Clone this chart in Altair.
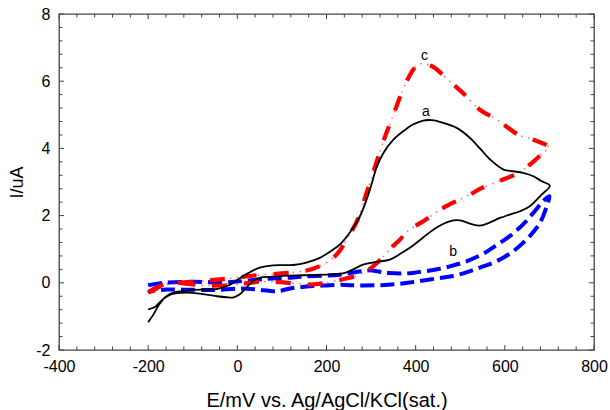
import altair as alt
import pandas as pd

# Curve a (black): anodic branch -200 -> 700 mV, then cathodic branch back to -200 mV
E_a = [-200, -188, -175, -159, -140, -120, -96, -69, -44, -20, 0, 15, 30, 50, 80, 125, 155,
       185, 200, 215, 230, 252, 275, 290, 301, 312, 327, 350, 372, 394, 417, 436, 462, 492,
       522, 544, 567, 597, 619, 641, 664, 683, 701,
       683, 656, 634, 611, 589, 567, 544, 522, 499, 476, 446, 416, 387, 365, 342, 312, 282,
       260, 237, 207, 170, 133, 95, 80, 50, 35, 20, 5, -10, -25, -45, -70, -100, -125, -150,
       -168, -185, -200]
I_a = [-1.17, -0.94, -0.64, -0.40, -0.28, -0.24, -0.21, -0.20, -0.18, -0.08, 0.08, 0.22,
       0.33, 0.45, 0.52, 0.53, 0.60, 0.74, 0.86, 0.99, 1.14, 1.49, 1.98, 2.48, 2.93, 3.42,
       3.85, 4.26, 4.51, 4.71, 4.83, 4.84, 4.76, 4.61, 4.31, 4.00, 3.67, 3.37, 3.32, 3.27,
       3.17, 3.02, 2.89,
       2.63, 2.28, 2.13, 2.03, 1.93, 1.80, 1.70, 1.76, 1.86, 1.83, 1.64, 1.34, 1.04, 0.86,
       0.69, 0.62, 0.54, 0.40, 0.28, 0.25, 0.23, 0.22, 0.20, 0.18, 0.15, 0.05, -0.15, -0.35,
       -0.44, -0.43, -0.40, -0.35, -0.30, -0.30, -0.35, -0.50, -0.72, -0.79]

# Curve b (blue)
E_b = [-200, -166, -96, -27, 9, 50, 78, 125, 148, 193, 230, 270, 296, 320, 340, 380, 402,
       439, 477, 514, 551, 581, 611, 641, 664, 686, 700,
       694, 679, 656, 619, 581, 544, 507, 469, 432, 392, 357, 322, 282, 252, 230, 183, 150,
       121, 95, 78, 44, 5, -47, -99, -159, -200]
I_b = [-0.07, 0.00, 0.03, 0.01, 0.05, 0.10, 0.13, 0.16, 0.19, 0.21, 0.24, 0.33, 0.37, 0.33,
       0.29, 0.28, 0.31, 0.38, 0.49, 0.64, 0.86, 1.12, 1.39, 1.74, 2.08, 2.43, 2.58,
       2.28, 1.79, 1.39, 0.94, 0.64, 0.45, 0.28, 0.17, 0.10, 0.02, -0.04, -0.07, -0.08,
       -0.07, -0.06, -0.09, -0.12, -0.16, -0.24, -0.25, -0.20, -0.17, -0.21, -0.21, -0.20,
       -0.26]

# Curve c (red)
E_c = [-200, -184, -160, -130, -100, -70, -40, -10, 20, 60, 100, 140, 170, 200, 226, 250,
       270, 290, 310, 330, 350, 370, 390, 405, 418, 440, 476, 506, 544, 582, 630, 664, 700,
       685, 668, 640, 619, 582, 545, 529, 499, 462, 439, 417, 383, 365, 350, 335, 322, 296,
       270, 235, 200, 165, 130, 95, 60, 27, 0, -35, -70, -105, -140, -166, -185, -200]
I_c = [-0.30, -0.15, -0.07, 0.00, 0.03, 0.06, 0.10, 0.14, 0.19, 0.24, 0.28, 0.33, 0.42,
       0.60, 0.89, 1.40, 1.88, 2.68, 3.50, 4.30, 5.00, 5.70, 6.25, 6.49, 6.52, 6.42, 6.00,
       5.65, 5.15, 4.86, 4.41, 4.26, 4.02,
       3.87, 3.65, 3.35, 3.20, 3.00, 2.80, 2.68, 2.48, 2.23, 2.03, 1.83, 1.55, 1.29, 1.10,
       0.89, 0.70, 0.40, 0.22, 0.10, 0.00, -0.05, -0.02, 0.02, 0.04, 0.00, -0.05, -0.08,
       -0.08, -0.04, 0.00, -0.05, -0.20, -0.30]

# Curve labels
label_text = ["a", "b", "c"]
label_E = [423, 484, 420]
label_I = [5.08, 0.93, 6.76]

x_ticks = [-400, -200, 0, 200, 400, 600, 800]
y_ticks = [-2, 0, 2, 4, 6, 8]
x_minor = [v for v in range(-400, 801, 40) if v % 200 != 0]
y_minor = [round(-2 + 0.4 * i, 1) for i in range(26) if (i % 5) != 0]

W, H = 535, 336
FONT = "Liberation Sans"

xs = alt.Scale(domain=[-400, 800], nice=False, zero=False)
ys = alt.Scale(domain=[-2, 8], nice=False, zero=False)

# plain hyphen-minus in tick labels
LABEL = "'' + datum.value"

x_axis = alt.Axis(values=x_ticks, title="E/mV vs. Ag/AgCl/KCl(sat.)", labelFlush=False,
                  labelOverlap=False, labelPadding=8, titlePadding=16, labelExpr=LABEL)
y_axis = alt.Axis(values=y_ticks, title="I/uA", labelFlush=False, labelOverlap=False,
                  labelPadding=9, titlePadding=9, labelExpr=LABEL, titleFontSize=18)


def curve(E, I):
    return pd.DataFrame({"E": E, "I": I, "k": list(range(len(E)))})


def enc(chart):
    return chart.encode(
        x=alt.X("E:Q", scale=xs, axis=x_axis),
        y=alt.Y("I:Q", scale=ys, axis=y_axis),
        order="k:Q",
    )


line_a = enc(alt.Chart(curve(E_a, I_a)).mark_line(
    color="black", strokeWidth=1.8, interpolate="catmull-rom"))
line_b = enc(alt.Chart(curve(E_b, I_b)).mark_line(
    color="#0000ff", strokeWidth=4, strokeDash=[14, 6], interpolate="catmull-rom"))
line_c_dots = enc(alt.Chart(curve(E_c, I_c)).mark_line(
    color="#ff0000", strokeWidth=1.5, strokeDash=[1.5, 5.5], opacity=0.6,
    interpolate="catmull-rom"))
line_c = enc(alt.Chart(curve(E_c, I_c)).mark_line(
    color="#ff0000", strokeWidth=4.2, strokeDash=[15, 17], interpolate="catmull-rom"))

labels = alt.Chart(pd.DataFrame({"t": label_text, "E": label_E, "I": label_I})).mark_text(
    font=FONT, fontSize=14, color="black"
).encode(
    x=alt.X("E:Q", scale=xs, axis=x_axis),
    y=alt.Y("I:Q", scale=ys, axis=y_axis),
    text="t:N",
)


# Inward ticks on all four sides of the frame
def xtick_rules(vals, length):
    df = pd.DataFrame({"E": vals})
    bottom = alt.Chart(df).mark_rule(color="#444", strokeWidth=1).encode(
        x=alt.X("E:Q", scale=xs, axis=x_axis), y=alt.value(H), y2=alt.value(H - length))
    top = alt.Chart(df).mark_rule(color="#444", strokeWidth=1).encode(
        x=alt.X("E:Q", scale=xs, axis=x_axis), y=alt.value(0), y2=alt.value(length))
    return [bottom, top]


def ytick_rules(vals, length):
    df = pd.DataFrame({"I": vals})
    left = alt.Chart(df).mark_rule(color="#444", strokeWidth=1).encode(
        y=alt.Y("I:Q", scale=ys, axis=y_axis), x=alt.value(0), x2=alt.value(length))
    right = alt.Chart(df).mark_rule(color="#444", strokeWidth=1).encode(
        y=alt.Y("I:Q", scale=ys, axis=y_axis), x=alt.value(W), x2=alt.value(W - length))
    return [left, right]


tick_layers = (xtick_rules(x_ticks, 5) + xtick_rules(x_minor, 3.5)
               + ytick_rules(y_ticks, 5) + ytick_rules(y_minor, 3.5))

chart = alt.layer(
    *tick_layers, line_b, line_c_dots, line_c, line_a, labels
).properties(
    width=W, height=H,
    autosize=alt.AutoSizeParams(type="none"),
    padding={"left": 59, "top": 14, "right": 16, "bottom": 60},
    background="white",
).configure_view(
    stroke="#444", strokeWidth=1.3
).configure_axis(
    grid=False, domain=False, ticks=False,
    labelFont=FONT, labelFontSize=16, labelColor="black",
    titleFont=FONT, titleFontSize=20, titleFontWeight="normal", titleColor="black",
)

chart.save("out.html", embed_options={"renderer": "svg", "actions": False})
